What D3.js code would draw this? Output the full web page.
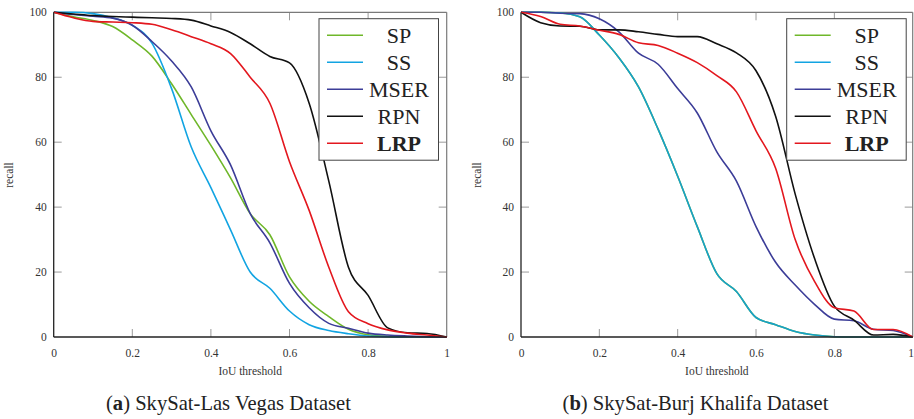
<!DOCTYPE html>
<html>
<head>
<meta charset="utf-8">
<script src="https://cdn.jsdelivr.net/npm/d3@7"></script>
<style>
  html, body { margin: 0; padding: 0; background: #fff; }
  svg { display: block; }
  text { font-family: "Liberation Serif", "DejaVu Serif", serif; }
</style>
</head>
<body>
<svg id="fig" width="914" height="419"></svg>
<script>
// IoU thresholds shared by every curve
const iou = [0, 0.05, 0.1, 0.15, 0.2, 0.25, 0.3, 0.35, 0.4, 0.45, 0.5,
             0.55, 0.6, 0.65, 0.7, 0.75, 0.8, 0.85, 0.9, 0.95, 1];

// Method names, in legend order
const methods = ["SP", "SS", "MSER", "RPN", "LRP"];

// Recall (%) — SkySat-Las Vegas
const lvSP   = [100, 98.6, 97.5, 95.6, 91.5, 86.5, 78, 68.5, 59, 49, 38, 31.5, 18.5, 11, 6.3, 2.4, 0.7, 0.2, 0.1, 0, 0];
const lvSS   = [100, 100, 99.6, 98.3, 96, 90.5, 76.5, 58.5, 46, 33, 20, 15, 8, 3.8, 2, 1, 0.3, 0.1, 0, 0, 0];
const lvMSER = [100, 99.3, 98.8, 98.2, 96, 91, 85, 77, 63.5, 53, 38, 29, 16.5, 9, 4.2, 2.7, 1.2, 0.6, 0.3, 0.1, 0];
const lvRPN  = [100, 99.5, 99, 98.7, 98.5, 98.3, 98.1, 97.6, 95.8, 93.8, 90.3, 86.4, 84.4, 72, 48, 21.5, 12.8, 2.8, 1.3, 1.1, 0];
const lvLRP  = [100, 98.3, 97.2, 97, 96.8, 96.3, 94.6, 92.5, 90.3, 87.3, 80, 72, 54, 39, 21.5, 7.8, 4.1, 2.2, 1.2, 0.6, 0];

// Recall (%) — SkySat-Burj Khalifa
const bkSP   = [100, 100, 99.8, 98.6, 93, 86, 77, 64, 49.5, 34, 19.5, 14, 6, 3.8, 1.7, 0.6, 0.1, 0, 0, 0, 0];
const bkSS   = [100, 100, 99.8, 98.6, 93, 86, 77, 64, 49.5, 34, 19.5, 14, 6, 3.8, 1.7, 0.6, 0.1, 0, 0, 0, 0];
const bkMSER = [100, 100, 99.7, 99.6, 98, 94, 87.4, 84, 76.5, 69, 57, 48, 34, 23, 16, 10, 5.5, 5, 2.4, 2, 0];
const bkRPN  = [100, 96.8, 95.8, 95.7, 94.6, 94.6, 94, 93.2, 92.5, 92.5, 90.3, 87.5, 82, 68, 44, 24, 9.5, 5.2, 0.6, 0.8, 0];
const bkLRP  = [100, 98.7, 96.3, 95.8, 94.5, 93.2, 90.6, 89.8, 87.4, 84.5, 80.5, 75.5, 63.5, 52, 30, 17, 9, 8, 2.3, 2.3, 0];

// Tick values
const xTicks = [0, 0.2, 0.4, 0.6, 0.8, 1];
const yTicks = [0, 20, 40, 60, 80, 100];

const colors = { SP: "#6fb72a", SS: "#12a4e2", MSER: "#3c3d98", RPN: "#111111", LRP: "#e3171e" };

const panels = [
  { left: 53.7, right: 446.7, caption: "a", title: " SkySat-Las Vegas Dataset", captionX: 228.5,
    series: { SP: lvSP, SS: lvSS, MSER: lvMSER, RPN: lvRPN, LRP: lvLRP }, ssColor: colors.SS,
    legendX: 319, ylabX: 13 },
  { left: 521, right: 912.7, caption: "b", title: " SkySat-Burj Khalifa Dataset", captionX: 695.5,
    series: { SP: bkSP, SS: bkSS, MSER: bkMSER, RPN: bkRPN, LRP: bkLRP }, ssColor: "#16a0cb",
    legendX: 786.7, ylabX: 481 }
];

const plotTop = 12.3, plotBottom = 337;
const svg = d3.select("#fig");
const width = +svg.attr("width");

panels.forEach((p, pi) => {
  const x = d3.scaleLinear().domain([0, 1]).range([p.left, p.right]);
  const y = d3.scaleLinear().domain([0, 100]).range([plotBottom, plotTop]);
  const g = svg.append("g");

  const clipId = "clip" + pi;
  svg.append("clipPath").attr("id", clipId)
    .append("rect").attr("x", p.left).attr("y", plotTop - 2)
    .attr("width", p.right - p.left + 1).attr("height", plotBottom - plotTop + 3);

  // inner tick marks on all four sides
  const tickLen = 8;
  const tk = g.append("g").attr("stroke", "#9a9a9a").attr("stroke-width", 1);
  xTicks.slice(1, -1).forEach(t => {
    tk.append("line").attr("x1", x(t)).attr("x2", x(t)).attr("y1", plotBottom).attr("y2", plotBottom - tickLen);
    tk.append("line").attr("x1", x(t)).attr("x2", x(t)).attr("y1", plotTop).attr("y2", plotTop + tickLen);
  });
  yTicks.slice(1, -1).forEach(t => {
    tk.append("line").attr("x1", p.left).attr("x2", p.left + tickLen).attr("y1", y(t)).attr("y2", y(t));
    tk.append("line").attr("x1", p.right).attr("x2", p.right - tickLen).attr("y1", y(t)).attr("y2", y(t));
  });

  // frame: top/right light, left/bottom dark
  g.append("line").attr("x1", p.left).attr("x2", p.right).attr("y1", plotTop).attr("y2", plotTop)
    .attr("stroke", "#7a7a7a").attr("stroke-width", 1.2);
  g.append("line").attr("x1", p.right).attr("x2", p.right).attr("y1", plotTop).attr("y2", plotBottom)
    .attr("stroke", "#7a7a7a").attr("stroke-width", 1.2);

  // tick labels via d3 axes
  const xAxis = d3.axisBottom(x).tickValues(xTicks).tickSize(0).tickPadding(12)
    .tickFormat(d => d === 0 ? "0" : d === 1 ? "1" : d3.format(".1f")(d));
  const xa = g.append("g").attr("transform", `translate(0,${plotBottom})`).call(xAxis);
  xa.select(".domain").remove();
  xa.selectAll("text").attr("font-family", "Liberation Serif").attr("font-size", 11.5).attr("fill", "#333");
  // keep the last label inside the page edge
  xa.selectAll(".tick").filter(d => d === 1 && x(1) + 4 > width)
    .select("text").attr("text-anchor", "end").attr("dx", width - 0.5 - x(1));

  const yAxis = d3.axisLeft(y).tickValues(yTicks).tickSize(0).tickPadding(7);
  const ya = g.append("g").attr("transform", `translate(${p.left},0)`).call(yAxis);
  ya.select(".domain").remove();
  ya.selectAll("text").attr("font-family", "Liberation Serif").attr("font-size", 11.5).attr("fill", "#333");

  // curves
  const line = d3.line().x((d, i) => x(iou[i])).y(d => y(d)).curve(d3.curveMonotoneX);
  const cg = g.append("g").attr("clip-path", `url(#${clipId})`);
  methods.forEach(m => {
    cg.append("path").datum(p.series[m])
      .attr("d", line).attr("fill", "none")
      .attr("stroke", m === "SS" ? p.ssColor : colors[m])
      .attr("stroke-width", 1.6).attr("stroke-linejoin", "round");
  });

  g.append("line").attr("x1", p.left).attr("x2", p.left).attr("y1", plotTop).attr("y2", plotBottom)
    .attr("stroke", "#222").attr("stroke-width", 1.3);
  g.append("line").attr("x1", p.left).attr("x2", p.right).attr("y1", plotBottom).attr("y2", plotBottom)
    .attr("stroke", "#222").attr("stroke-width", 1.3);

  // axis titles
  g.append("text").attr("x", (p.left + p.right) / 2).attr("y", 375)
    .attr("text-anchor", "middle").attr("font-size", 11.5).attr("fill", "#333").text("IoU threshold");
  g.append("text").attr("transform", `translate(${p.ylabX},175) rotate(-90)`)
    .attr("text-anchor", "middle").attr("font-size", 11.5).attr("fill", "#333").text("recall");

  // legend
  const lg = g.append("g").attr("transform", `translate(${p.legendX},18.7)`);
  lg.append("rect").attr("width", 119.5).attr("height", 141.5)
    .attr("fill", "#fff").attr("stroke", "#444").attr("stroke-width", 1);
  methods.forEach((m, i) => {
    const cy = 16.5 + i * 27;
    lg.append("line").attr("x1", 8).attr("x2", 44).attr("y1", cy).attr("y2", cy)
      .attr("stroke", colors[m]).attr("stroke-width", 1.6);
    lg.append("text").attr("x", 80).attr("y", cy + 7.5).attr("text-anchor", "middle")
      .attr("font-size", 22).attr("fill", "#222")
      .attr("font-weight", m === "LRP" ? "bold" : "normal").text(m);
  });

  // caption
  const cap = g.append("text").attr("x", p.captionX).attr("y", 410)
    .attr("text-anchor", "middle").attr("font-size", 20.6).attr("fill", "#222");
  cap.append("tspan").text("(");
  cap.append("tspan").attr("font-weight", "bold").text(p.caption);
  cap.append("tspan").text(")" + p.title);
});
</script>
</body>
</html>
